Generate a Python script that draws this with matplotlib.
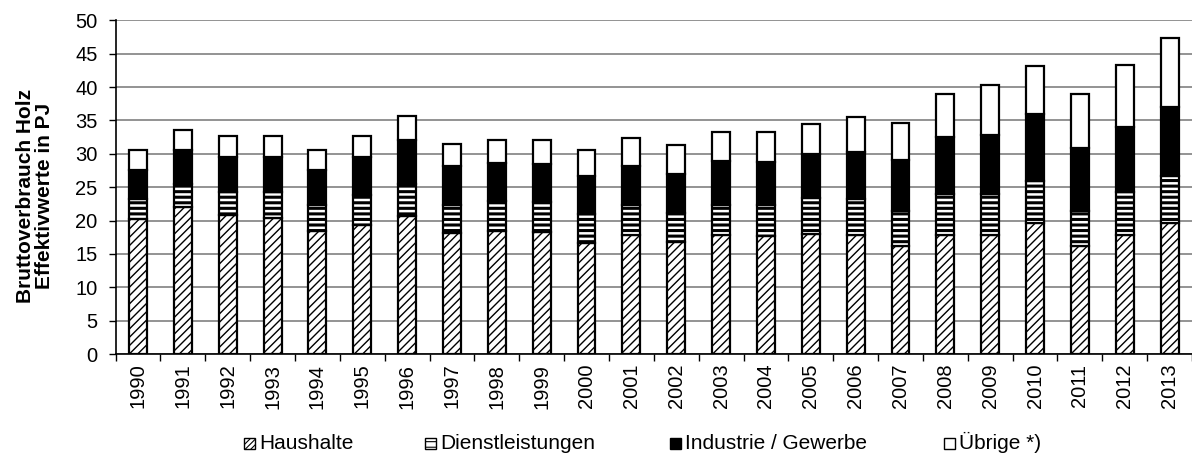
import numpy as np
import matplotlib.pyplot as plt
from matplotlib.patches import Rectangle

plt.rcParams['font.family'] = ['Liberation Sans', 'DejaVu Sans']

jahre = [str(j) for j in range(1990, 2014)]

# Obergrenzen der gestapelten Segmente (PJ)
haushalte_top = [20.2, 22.0, 20.8, 20.4, 18.5, 19.4, 20.7, 18.2, 18.4, 18.3, 16.7, 17.9,
                 16.8, 17.8, 17.7, 18.0, 17.9, 16.2, 17.9, 17.9, 19.7, 16.2, 17.8, 19.7]
dienst_top = [23.2, 25.5, 24.2, 24.2, 22.3, 23.8, 25.5, 22.3, 22.9, 22.8, 21.0, 22.3,
              21.1, 22.3, 22.3, 23.3, 23.2, 21.5, 24.0, 24.0, 25.9, 21.4, 24.3, 26.7]
industrie_top = [27.6, 30.5, 29.5, 29.5, 27.5, 29.5, 32.1, 28.2, 28.6, 28.4, 26.6, 28.2,
                 27.0, 28.9, 28.8, 29.9, 30.3, 29.1, 32.5, 32.8, 35.9, 30.8, 34.0, 37.0]
gesamt = [30.5, 33.5, 32.6, 32.6, 30.6, 32.6, 35.6, 31.5, 32.0, 32.0, 30.5, 32.3,
          31.3, 33.3, 33.3, 34.5, 35.5, 34.6, 38.9, 40.3, 43.1, 38.9, 43.3, 47.4]

reihen = ['Haushalte', 'Dienstleistungen', 'Industrie / Gewerbe', 'Übrige *)']

haushalte = np.array(haushalte_top)
dienst = np.array(dienst_top) - haushalte
industrie = np.array(industrie_top) - np.array(dienst_top)
uebrige = np.array(gesamt) - np.array(industrie_top)

x = np.arange(len(jahre))
w = 0.4
W, H = 1192, 459

fig = plt.figure(figsize=(11.92, 4.59), dpi=100)
ax = fig.add_axes([115.6 / W, 105 / H, (W - 115.6) / W, 333.7 / H])

ax.grid(axis='y', color='#808080', linewidth=1.2, zorder=0)
ax.set_axisbelow(True)

with plt.rc_context({'hatch.linewidth': 1.0}):
    ax.bar(x, haushalte, w, color='white', edgecolor='black', hatch='////',
           linewidth=1.6, zorder=2)
with plt.rc_context({'hatch.linewidth': 2.2}):
    ax.bar(x, dienst, w, bottom=haushalte, color='white', edgecolor='black',
           hatch='---', linewidth=1.6, zorder=2)
ax.bar(x, industrie, w, bottom=dienst_top, color='black', edgecolor='black',
       linewidth=1.6, zorder=2)
ax.bar(x, uebrige, w, bottom=industrie_top, color='white', edgecolor='black',
       linewidth=1.6, zorder=2)

ax.set_xlim(-0.5, -0.5 + (W - 115.6) / 45.17)
ax.set_ylim(0, 50)
ax.set_yticks(range(0, 51, 5))
ax.tick_params(axis='y', labelsize=14.5, length=5, width=1, pad=8)
ax.set_xticks(x)
ax.set_xticklabels(jahre, rotation=90, fontsize=14.5)
ax.set_xticks(np.arange(-0.5, len(jahre), 1), minor=True)
ax.tick_params(axis='x', which='major', length=0, pad=7)
ax.tick_params(axis='x', which='minor', length=5, width=1)

for s in ['top', 'right']:
    ax.spines[s].set_visible(False)
ax.spines['left'].set_linewidth(1.2)
ax.spines['bottom'].set_linewidth(1.2)

fig.text(35 / W, 1 - 196 / H, 'Bruttoverbrauch Holz\nEffektivwerte in PJ',
         rotation=90, ha='center', va='center', fontsize=15, fontweight='bold',
         linespacing=0.95)

# Legende von Hand, damit alle Texte auf einer Grundlinie stehen
legend_x = [244, 425, 670, 944]
stile = [dict(facecolor='white', hatch='//////'),
         dict(facecolor='white', hatch='---'),
         dict(facecolor='black'),
         dict(facecolor='white')]
basis = 1 - 449 / H
with plt.rc_context({'hatch.linewidth': 0.8}):
    for name, lx, st in zip(reihen, legend_x, stile):
        fig.add_artist(Rectangle((lx / W, basis), 11 / W, 11 / H, edgecolor='black',
                                 linewidth=1, transform=fig.transFigure, **st))
        fig.text((lx + 15) / W, basis, name, fontsize=15, ha='left', va='baseline')

fig.savefig('out.png', dpi=100)
